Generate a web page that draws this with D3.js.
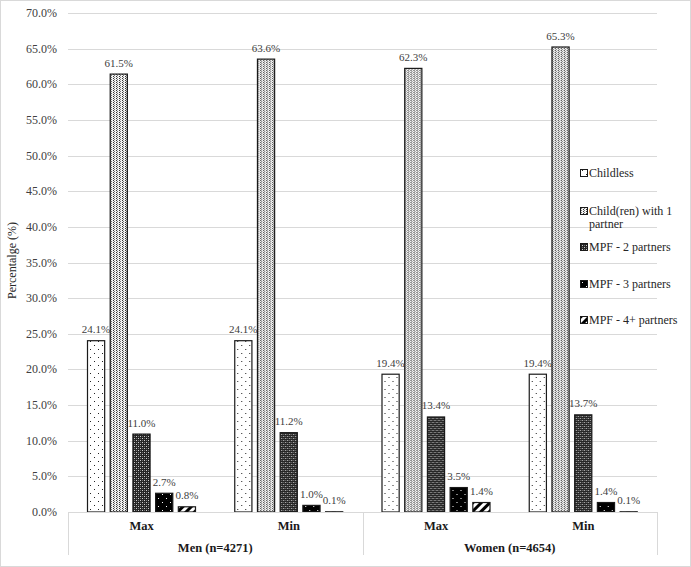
<!DOCTYPE html>
<html>
<head>
<meta charset="utf-8">
<script src="https://cdn.jsdelivr.net/npm/d3@7"></script>
<style>
  body { margin: 0; background: #fff; }
  text { font-family: "Liberation Serif", "Times New Roman", serif; }
</style>
</head>
<body>
<svg id="canvas" width="691" height="567"></svg>
<script>
// data
let groups = ['Men (n=4271)', 'Women (n=4654)'];
let subCats = ['Max', 'Min'];
let series = ['Childless', 'Child(ren) with 1 partner', 'MPF - 2 partners', 'MPF - 3 partners', 'MPF - 4+ partners'];
let menMax = [24.1, 61.5, 11.0, 2.7, 0.8];
let menMin = [24.1, 63.6, 11.2, 1.0, 0.1];
let womenMax = [19.4, 62.3, 13.4, 3.5, 1.4];
let womenMin = [19.4, 65.3, 13.7, 1.4, 0.1];
let yTicks = [0, 5, 10, 15, 20, 25, 30, 35, 40, 45, 50, 55, 60, 65, 70];

let columns = [
    { group: groups[0], sub: subCats[0], values: menMax },
    { group: groups[0], sub: subCats[1], values: menMin },
    { group: groups[1], sub: subCats[0], values: womenMax },
    { group: groups[1], sub: subCats[1], values: womenMin }
];
columns.forEach((c) => c.key = c.group + '|' + c.sub);

let canvas = d3.select('#canvas');

// outer border
canvas.append('rect')
    .attr('x', 0.5).attr('y', 0.5)
    .attr('width', 690).attr('height', 566)
    .attr('fill', 'white')
    .attr('stroke', '#d9d9d9');

// patterns
let defs = canvas.append('defs');

let p0 = defs.append('pattern').attr('id', 'pat0').attr('patternUnits', 'userSpaceOnUse')
    .attr('width', 8).attr('height', 8);
p0.append('rect').attr('width', 8).attr('height', 8).attr('fill', 'white');
p0.append('rect').attr('x', 2).attr('y', 1).attr('width', 1).attr('height', 1).attr('fill', '#222');
p0.append('rect').attr('x', 6).attr('y', 5).attr('width', 1).attr('height', 1).attr('fill', '#222');

let p1 = defs.append('pattern').attr('id', 'pat1').attr('patternUnits', 'userSpaceOnUse')
    .attr('width', 3).attr('height', 2);
p1.append('rect').attr('width', 3).attr('height', 2).attr('fill', '#f2f2f2');
p1.append('rect').attr('x', 0).attr('y', 0).attr('width', 1).attr('height', 1).attr('fill', '#333');
p1.append('rect').attr('x', 1).attr('y', 1).attr('width', 1).attr('height', 1).attr('fill', '#777');

let p2 = defs.append('pattern').attr('id', 'pat2').attr('patternUnits', 'userSpaceOnUse')
    .attr('width', 4).attr('height', 4);
p2.append('rect').attr('width', 4).attr('height', 4).attr('fill', '#262626');
p2.append('rect').attr('x', 0).attr('y', 0).attr('width', 1).attr('height', 1).attr('fill', '#cfcfcf');
p2.append('rect').attr('x', 2).attr('y', 2).attr('width', 1).attr('height', 1).attr('fill', '#cfcfcf');
p2.append('rect').attr('x', 2).attr('y', 0).attr('width', 1).attr('height', 1).attr('fill', '#707070');
p2.append('rect').attr('x', 0).attr('y', 2).attr('width', 1).attr('height', 1).attr('fill', '#707070');

let p3 = defs.append('pattern').attr('id', 'pat3').attr('patternUnits', 'userSpaceOnUse')
    .attr('width', 8).attr('height', 8);
p3.append('rect').attr('width', 8).attr('height', 8).attr('fill', 'black');
p3.append('rect').attr('x', 2).attr('y', 2).attr('width', 1).attr('height', 1).attr('fill', 'white');
p3.append('rect').attr('x', 6).attr('y', 6).attr('width', 1).attr('height', 1).attr('fill', 'white');

let p4 = defs.append('pattern').attr('id', 'pat4').attr('patternUnits', 'userSpaceOnUse')
    .attr('width', 6).attr('height', 6).attr('patternTransform', 'rotate(45)');
p4.append('rect').attr('width', 6).attr('height', 6).attr('fill', 'white');
p4.append('rect').attr('x', 0).attr('y', 0).attr('width', 3).attr('height', 6).attr('fill', 'black');

let patFill = (i) => 'url(#pat' + i + ')';

// scales
let x = d3.scaleBand()
    .domain(columns.map(c => c.key))
    .range([68, 657]);

let xInner = d3.scaleBand()
    .domain(series)
    .range([19, 128])
    .paddingInner(0.2);

let y = d3.scaleLinear()
    .domain([0, 70])
    .range([512, 13]);

// gridlines
canvas.append('g')
    .selectAll('line')
    .data(yTicks)
    .enter()
    .append('line')
    .attr('x1', 68).attr('x2', 657)
    .attr('y1', d => Math.round(y(d)) + 0.5)
    .attr('y2', d => Math.round(y(d)) + 0.5)
    .attr('stroke', '#d9d9d9');

// y tick labels
canvas.append('g')
    .selectAll('text')
    .data(yTicks)
    .enter()
    .append('text')
    .attr('x', 57)
    .attr('y', d => y(d) + 4)
    .attr('text-anchor', 'end')
    .style('font-size', '12px')
    .style('fill', '#404040')
    .text(d => d3.format('.1f')(d) + '%');

// y axis title
canvas.append('text')
    .attr('transform', 'translate(16,' + (y(35) - 2) + ') rotate(-90)')
    .attr('text-anchor', 'middle')
    .style('font-size', '12px')
    .style('fill', '#262626')
    .text('Percentalge (%)');

// bars
let colG = canvas.selectAll('g.col')
    .data(columns)
    .enter()
    .append('g')
    .attr('class', 'col')
    .attr('transform', c => 'translate(' + x(c.key) + ',0)');

colG.selectAll('rect')
    .data(c => c.values.map((v, i) => ({ s: series[i], i: i, v: v })))
    .enter()
    .append('rect')
    .attr('x', d => xInner(d.s) + 0.5)
    .attr('y', d => y(d.v) + 0.5)
    .attr('width', xInner.bandwidth() - 1)
    .attr('height', d => Math.max(0, y(0) - y(d.v) - 0.5))
    .attr('fill', d => patFill(d.i))
    .attr('stroke', '#1a1a1a')
    .attr('stroke-width', 1.2);

colG.selectAll('text')
    .data(c => c.values.map((v, i) => ({ s: series[i], i: i, v: v })))
    .enter()
    .append('text')
    .attr('x', d => xInner(d.s) + xInner.bandwidth() / 2)
    .attr('y', d => y(d.v) - 7)
    .attr('text-anchor', 'middle')
    .style('font-size', '11px')
    .style('fill', '#404040')
    .text(d => d3.format('.1f')(d.v) + '%');

// category axis
let axisG = canvas.append('g');
axisG.append('line')
    .attr('x1', 68).attr('x2', 657)
    .attr('y1', 512.5).attr('y2', 512.5)
    .attr('stroke', '#d9d9d9');
[68, x(columns[2].key), 657].forEach(px => {
    axisG.append('line')
        .attr('x1', Math.round(px) + 0.5).attr('x2', Math.round(px) + 0.5)
        .attr('y1', 512).attr('y2', 555)
        .attr('stroke', '#d9d9d9');
});

axisG.selectAll('text.sub')
    .data(columns)
    .enter()
    .append('text')
    .attr('class', 'sub')
    .attr('x', c => x(c.key) + x.bandwidth() / 2)
    .attr('y', 530)
    .attr('text-anchor', 'middle')
    .style('font-size', '12.5px')
    .style('font-weight', 'bold')
    .style('fill', '#1a1a1a')
    .text(c => c.sub);

axisG.selectAll('text.grp')
    .data(groups)
    .enter()
    .append('text')
    .attr('class', 'grp')
    .attr('x', g => x(g + '|Max') + x.bandwidth())
    .attr('y', 552)
    .attr('text-anchor', 'middle')
    .style('font-size', '12.5px')
    .style('font-weight', 'bold')
    .style('fill', '#1a1a1a')
    .text(g => g);

// legend
let legendRows = [177, 215, 251, 288, 324];
let legend = canvas.append('g');
let item = legend.selectAll('g')
    .data(series)
    .enter()
    .append('g')
    .attr('transform', (d, i) => 'translate(580,' + legendRows[i] + ')');

item.append('rect')
    .attr('x', 0.5).attr('y', -7.5)
    .attr('width', 7).attr('height', 7)
    .attr('fill', (d, i) => patFill(i))
    .attr('stroke', '#1a1a1a');

item.append('text')
    .attr('x', 9)
    .attr('y', 0)
    .style('font-size', '12px')
    .style('fill', '#262626')
    .each(function (d) {
        let t = d3.select(this);
        if (d === 'Child(ren) with 1 partner') {
            t.append('tspan').attr('x', 9).attr('dy', 0).text('Child(ren) with 1');
            t.append('tspan').attr('x', 9).attr('dy', 13).text('partner');
        } else {
            t.text(d);
        }
    });
</script>
</body>
</html>
